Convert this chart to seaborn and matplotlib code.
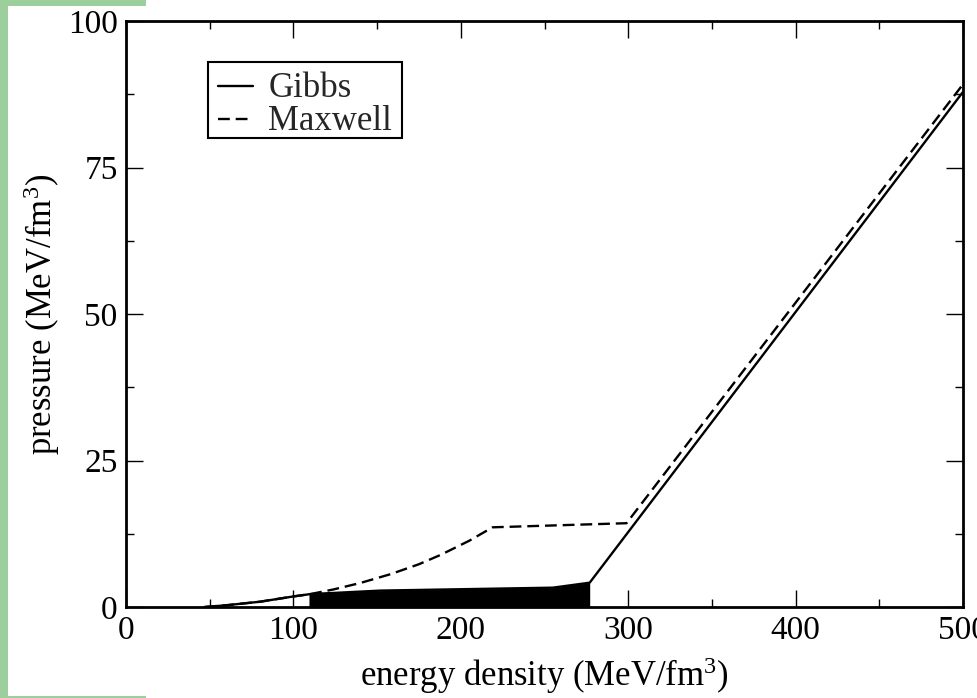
import matplotlib
matplotlib.use("Agg")
import matplotlib.pyplot as plt
import seaborn as sns
import pandas as pd
from matplotlib.patches import Rectangle
from matplotlib.path import Path

# ---- data ----
gibbs_x = [47, 60, 80, 100, 110, 152, 255, 277, 500]
gibbs_y = [0.0, 0.3, 0.9, 1.8, 2.2, 2.8, 3.3, 4.15, 87.9]

maxwell_x = [47, 60, 80, 100, 110, 124, 140, 158, 175, 188, 205, 219, 299, 500]
maxwell_y = [0.0, 0.3, 0.9, 1.8, 2.2, 3.0, 4.1, 5.6, 7.3, 8.9, 11.3, 13.6, 14.3, 89.2]

# mixed-phase band of the Gibbs curve (drawn filled)
band_x = [109.3, 152, 255, 277]
band_top = [2.2, 2.8, 3.3, 4.15]

x_ticks = [0, 100, 200, 300, 400, 500]
y_ticks = [0, 25, 50, 75, 100]

sns.set_theme(style="ticks")
plt.rcParams["font.family"] = ["Liberation Serif", "DejaVu Serif"]
plt.rcParams["mathtext.fontset"] = "custom"
plt.rcParams["mathtext.rm"] = "Liberation Serif"
plt.rcParams["mathtext.it"] = "Liberation Serif:italic"

fig = plt.figure(figsize=(9.78, 6.98), dpi=100)
fig.patch.set_facecolor("white")
ax = fig.add_axes([126 / 978, 1 - 607 / 698, (963 - 126) / 978, (607 - 21) / 698])

gdf = pd.DataFrame({"x": gibbs_x, "y": gibbs_y})
mdf = pd.DataFrame({"x": maxwell_x, "y": maxwell_y})

sns.lineplot(data=gdf, x="x", y="y", ax=ax, color="black", lw=1.7,
             sort=False, estimator=None, label="Gibbs")
sns.lineplot(data=mdf, x="x", y="y", ax=ax, color="black", lw=1.7,
             sort=False, estimator=None, label="Maxwell", dashes=False)
ax.lines[1].set_dashes([5, 2.5])
ax.fill_between(band_x, 0, band_top, color="black", lw=0)

ax.set_xlim(0, 500)
ax.set_ylim(0, 100)
ax.set_xticks(x_ticks)
ax.set_yticks(y_ticks)
ax.set_xticks([50, 150, 250, 350, 450], minor=True)
ax.set_yticks([12.5, 37.5, 62.5, 87.5], minor=True)
ax.tick_params(which="both", direction="in", top=True, right=True,
               labelsize=24, width=1.0, color="black", labelcolor="black")
ax.tick_params(which="major", length=12, pad=6)
ax.tick_params(which="minor", length=6)
for s in ax.spines.values():
    s.set_linewidth(2.0)
    s.set_color("black")

ax.set_xlabel("energy density (MeV/fm$^3$)", fontsize=25, color="black", labelpad=7)
ax.set_ylabel("pressure (MeV/fm$^3$)", fontsize=25, color="black", labelpad=4)

leg = ax.legend(loc="upper left", bbox_to_anchor=(0.104, 0.9215), fontsize=25,
                frameon=True, fancybox=False, edgecolor="black",
                handlelength=1.0, handletextpad=0.45, borderpad=0.14,
                labelspacing=0.01, borderaxespad=0, handleheight=0.5)


def wide_box(x0, y0, width, height, mutation_size):
    # square frame with extra horizontal padding, nudged upward
    dx = 0.15 * mutation_size
    dy = 0.14 * mutation_size
    x0 -= dx
    x1 = x0 + width + 2 * dx
    y0 += dy
    y1 = y0 + height
    return Path([(x0, y0), (x1, y0), (x1, y1), (x0, y1), (x0, y0)], closed=True)


leg.get_frame().set_boxstyle(wide_box)
leg.get_frame().set_linewidth(1.5)
leg.get_frame().set_facecolor("white")
leg.get_frame().set_alpha(1)

green = "#9ccf9c"
fig.add_artist(Rectangle((0, 0), 8 / 978, 1, transform=fig.transFigure,
                         color=green, lw=0, zorder=-1))
fig.add_artist(Rectangle((0, 1 - 5.5 / 698), 146 / 978, 5.5 / 698,
                         transform=fig.transFigure, color=green, lw=0, zorder=-1))
fig.add_artist(Rectangle((0, 0), 146 / 978, 2.5 / 698,
                         transform=fig.transFigure, color=green, lw=0, zorder=-1))

fig.savefig("out.png", dpi=100)
